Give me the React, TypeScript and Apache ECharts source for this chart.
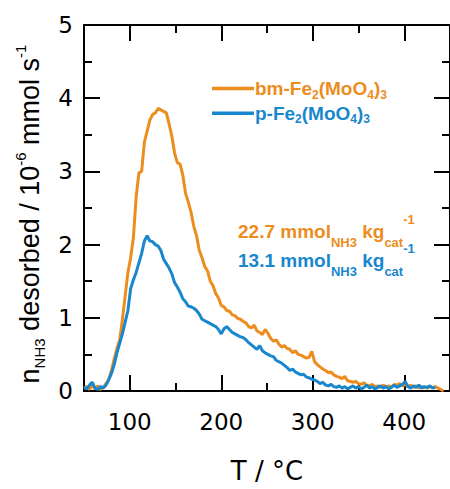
import React, { useEffect, useRef } from 'react';
import * as echarts from 'echarts';

const temperatures = [
  50, 53, 56, 59, 62, 65, 68, 71, 74, 77, 80, 83, 86, 89, 92, 95, 98, 101, 104, 107,
  110, 113, 116, 119, 122, 125, 128, 131, 134, 137, 140, 143, 146, 149, 152, 155, 158, 161, 164, 167,
  170, 173, 176, 179, 182, 185, 188, 191, 194, 197, 200, 203, 206, 209, 212, 215, 218, 221, 224, 227,
  230, 233, 236, 239, 242, 245, 248, 251, 254, 257, 260, 263, 266, 269, 272, 275, 278, 281, 284, 287,
  290, 293, 296, 299, 302, 305, 308, 311, 314, 317, 320, 323, 326, 329, 332, 335, 338, 341, 344, 347,
  350, 353, 356, 359, 362, 365, 368, 371, 374, 377, 380, 383, 386, 389, 392, 395, 398, 401, 404, 407,
  410, 413, 416, 419, 422, 425, 428, 431, 434, 437, 440, 443,
];

const bmValues = [
  0.04, 0.06, 0.02, 0.08, 0.03, 0.07, 0.02, 0.05, 0.10, 0.16, 0.28, 0.44, 0.58, 0.70, 0.98, 1.30, 1.62, 1.82, 2.10, 2.65,
  2.98, 3.00, 3.40, 3.55, 3.70, 3.78, 3.80, 3.86, 3.84, 3.82, 3.80, 3.65, 3.48, 3.25, 3.12, 3.10, 2.95, 2.70, 2.58, 2.44,
  2.25, 2.12, 1.92, 1.82, 1.70, 1.64, 1.50, 1.44, 1.33, 1.27, 1.17, 1.15, 1.10, 1.09, 1.04, 1.03, 0.99, 0.98, 0.95, 0.93,
  0.88, 0.86, 0.90, 0.82, 0.80, 0.77, 0.84, 0.79, 0.72, 0.68, 0.70, 0.64, 0.60, 0.62, 0.58, 0.57, 0.52, 0.55, 0.50, 0.49,
  0.47, 0.45, 0.46, 0.54, 0.40, 0.36, 0.33, 0.30, 0.28, 0.25, 0.26, 0.22, 0.20, 0.19, 0.17, 0.20, 0.14, 0.13, 0.12, 0.13,
  0.10, 0.09, 0.11, 0.08, 0.07, 0.09, 0.06, 0.07, 0.05, 0.08, 0.06, 0.07, 0.05, 0.09, 0.08, 0.10, 0.07, 0.09, 0.06, 0.08,
  0.05, 0.07, 0.04, 0.06, 0.05, 0.04, 0.06, 0.05, 0.06, 0.04, 0.02, 0.00,
];

const pValues = [
  0.05, 0.03, 0.08, 0.12, 0.04, 0.02, 0.06, 0.04, 0.08, 0.15, 0.24, 0.36, 0.52, 0.65, 0.78, 0.94, 1.10, 1.40, 1.52, 1.62,
  1.75, 1.88, 2.05, 2.12, 2.05, 2.04, 2.00, 1.98, 1.92, 1.80, 1.74, 1.68, 1.60, 1.48, 1.42, 1.35, 1.26, 1.22, 1.16, 1.15,
  1.13, 1.10, 1.05, 0.98, 0.96, 0.94, 0.92, 0.90, 0.88, 0.84, 0.78, 0.85, 0.88, 0.84, 0.80, 0.78, 0.76, 0.74, 0.73, 0.70,
  0.66, 0.63, 0.60, 0.57, 0.62, 0.55, 0.52, 0.50, 0.48, 0.47, 0.42, 0.40, 0.38, 0.35, 0.32, 0.28, 0.30, 0.26, 0.24, 0.22,
  0.23, 0.19, 0.18, 0.16, 0.15, 0.13, 0.10, 0.12, 0.08, 0.07, 0.09, 0.06, 0.05, 0.07, 0.04, 0.06, 0.03, 0.05, 0.07, 0.04,
  0.06, 0.03, 0.05, 0.08, 0.04, 0.06, 0.03, 0.05, 0.07, 0.04, 0.06, 0.03, 0.05, 0.08, 0.05, 0.07, 0.09, 0.13, 0.06, 0.04,
  0.07, 0.05, 0.08, 0.04, 0.06, 0.05, 0.07, 0.04, 0.05, null, null, null,
];

const seriesNames = ['bm-Fe2(MoO4)3', 'p-Fe2(MoO4)3'];
const uptakes = ['22.7', '13.1'];
const xMajorTicks = [100, 200, 300, 400];
const xMinorTicks = [150, 250, 350];

const ORANGE = '#EC8D1E';
const BLUE = '#1887CD';
const colors = [ORANGE, BLUE];

const SANS = 'Liberation Sans, Arial, sans-serif';
const WIDE = 'DejaVu Sans, sans-serif';

function subRich(s: string, p: string): string {
  return s.replace(/(\d)|([^\d]+)/g, (_m: string, d: string, t: string) =>
    d ? `{${p}s|${d}}` : `{${p}m|${t}}`
  );
}

export default function App() {
  const ref = useRef<HTMLDivElement>(null);

  useEffect(() => {
    if (!ref.current) return;
    const chart = echarts.init(ref.current, undefined, { renderer: 'svg' });

    const lineStyle = { color: '#000', width: 2 };
    const tickStyle = { color: '#000', width: 2 };

    const xAxisBase = {
      type: 'value' as const,
      min: 50,
      max: 450,
      splitLine: { show: false },
    };

    const legendRich: any = {};
    ['o', 'b'].forEach((p, i) => {
      legendRich[p + 'm'] = {
        color: colors[i], fontSize: 19, fontWeight: 'bold', fontFamily: SANS, lineHeight: 24,
      };
      legendRich[p + 's'] = {
        color: colors[i], fontSize: 12, fontWeight: 'bold', fontFamily: SANS, lineHeight: 16, verticalAlign: 'bottom',
      };
    });

    const annRich = (c: string) => ({
      m: { fill: c, fontSize: 19, fontWeight: 'bold', fontFamily: SANS, lineHeight: 36 },
      s: { fill: c, fontSize: 13, fontWeight: 'bold', fontFamily: SANS, lineHeight: 24, verticalAlign: 'bottom' },
      u: { fill: c, fontSize: 13, fontWeight: 'bold', fontFamily: SANS, lineHeight: 6, verticalAlign: 'top' },
    });

    const annY = [231, 260];

    chart.setOption({
      animation: false,
      grid: { left: 84, top: 25, right: -2, bottom: 97, containLabel: false },
      legend: {
        orient: 'vertical',
        left: 207,
        top: 74,
        itemWidth: 42,
        itemHeight: 3.5,
        itemGap: 3.3,
        icon: 'rect',
        data: seriesNames,
        selectedMode: false,
        formatter: (name: string) => subRich(name, name === seriesNames[0] ? 'o' : 'b'),
        textStyle: { rich: legendRich, padding: [0, 0, 0, -4] },
      },
      xAxis: [
        {
          ...xAxisBase,
          position: 'bottom',
          axisLine: { show: true, onZero: false, lineStyle },
          axisTick: { show: true, inside: true, length: 16, customValues: xMajorTicks, lineStyle: tickStyle },
          axisLabel: {
            show: true, customValues: xMajorTicks, fontSize: 23, fontFamily: WIDE, color: '#000', margin: 19,
          },
          name: 'T / °C',
          nameLocation: 'middle',
          nameGap: 67,
          nameTextStyle: { fontSize: 26, fontFamily: WIDE, color: '#000' },
        },
        {
          ...xAxisBase,
          position: 'bottom',
          axisLine: { show: false, onZero: false },
          axisTick: { show: true, inside: true, length: 8, customValues: xMinorTicks, lineStyle: tickStyle },
          axisLabel: { show: false },
        },
        {
          ...xAxisBase,
          position: 'top',
          axisLine: { show: true, onZero: false, lineStyle },
          axisTick: { show: true, inside: true, length: 16, customValues: xMajorTicks, lineStyle: tickStyle },
          axisLabel: { show: false },
        },
        {
          ...xAxisBase,
          position: 'top',
          axisLine: { show: false, onZero: false },
          axisTick: { show: true, inside: true, length: 8, customValues: xMinorTicks, lineStyle: tickStyle },
          axisLabel: { show: false },
        },
      ],
      yAxis: [
        {
          type: 'value',
          min: 0,
          max: 5,
          interval: 1,
          position: 'left',
          splitLine: { show: false },
          axisLine: { show: true, onZero: false, lineStyle },
          axisTick: { show: true, inside: true, length: 16, lineStyle: tickStyle },
          minorTick: { show: true, splitNumber: 2, length: 8, lineStyle: tickStyle },
          axisLabel: { fontSize: 23, fontFamily: WIDE, color: '#000', margin: 11 },
          name: '{m|n}{s|NH3}{m| desorbed / 10}{u|-6}{m| mmol s}{u|-1}',
          nameLocation: 'middle',
          nameRotate: 90,
          nameGap: 35,
          nameTextStyle: {
            padding: [0, 12, 0, 0],
            rich: {
              m: { fontSize: 27, fontFamily: SANS, color: '#000', lineHeight: 34 },
              s: { fontSize: 15, fontFamily: SANS, color: '#000', lineHeight: 31, verticalAlign: 'bottom' },
              u: { fontSize: 15, fontFamily: SANS, color: '#000', lineHeight: 25, verticalAlign: 'top' },
            },
          },
        },
        {
          type: 'value',
          min: 0,
          max: 5,
          interval: 1,
          position: 'right',
          splitLine: { show: false },
          axisLine: { show: true, onZero: false, lineStyle },
          axisTick: { show: true, inside: true, length: 16, lineStyle: tickStyle },
          minorTick: { show: true, splitNumber: 2, length: 8, lineStyle: tickStyle },
          axisLabel: { show: false },
        },
      ],
      graphic: uptakes.map((u, i) => ({
        type: 'text',
        x: 238,
        y: annY[i],
        style: {
          text: `{m|${u} mmol}{s|NH3}{m| kg}{s|cat}{u|-1}`,
          rich: annRich(colors[i]),
          fill: colors[i],
          align: 'left',
          verticalAlign: 'middle',
        },
      })),
      series: [bmValues, pValues].map((vals, i) => ({
        type: 'line',
        name: seriesNames[i],
        xAxisIndex: 0,
        yAxisIndex: 0,
        data: temperatures.map((t, j) => [t, vals[j]]),
        showSymbol: false,
        symbol: 'none',
        connectNulls: false,
        color: colors[i],
        lineStyle: { width: 3, color: colors[i] },
        z: 3,
      })),
    });

    return () => chart.dispose();
  }, []);

  return (
    <div
      ref={ref}
      style={{ position: 'absolute', left: 0, top: 0, width: 450, height: 489 }}
    />
  );
}
